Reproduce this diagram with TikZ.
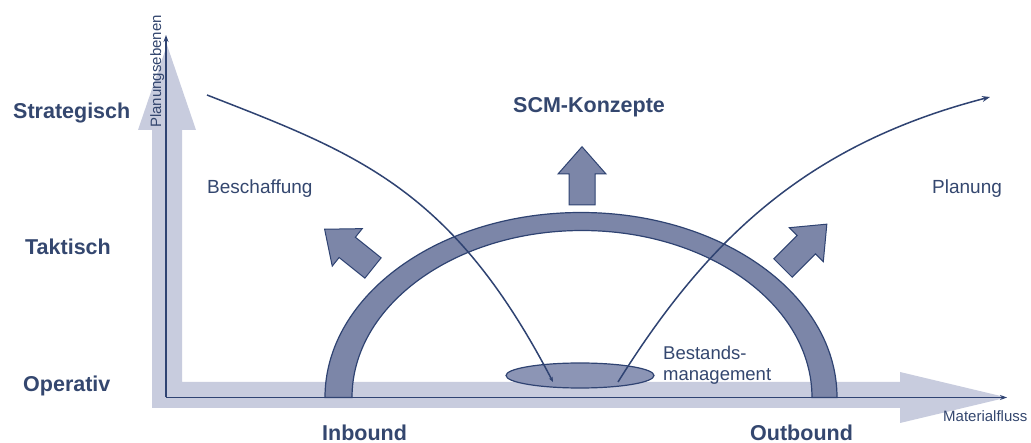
\documentclass[tikz,border=0pt]{standalone}
\usepackage{fontspec}
\setmainfont{Liberation Sans}
\usetikzlibrary{arrows.meta,shapes.geometric}
\definecolor{navy}{HTML}{2F4372}
\definecolor{txt}{HTML}{34476F}
\definecolor{archc}{HTML}{7C86A8}
\definecolor{ellc}{HTML}{8C95B5}
\definecolor{lightc}{HTML}{C8CCDE}
\begin{document}
\begin{tikzpicture}[x=1pt,y=-1pt,
  lvl/.style={font=\fontsize{21.5}{24}\selectfont\bfseries, text=txt, inner sep=0pt, anchor=base west},
  lbl/.style={font=\fontsize{19}{22}\selectfont, text=txt, inner sep=0pt, anchor=base west},
  small/.style={font=\fontsize{15}{18}\selectfont, text=txt, inner sep=0pt, anchor=base west},
  axisline/.style={draw=navy, line width=1.4pt, -{Stealth[length=7pt,width=5pt]}},
  curve/.style={draw=navy, line width=1.5pt},
  blockarr/.pic={\filldraw[fill=archc, draw=navy, line width=1pt]
     (0,-13) -- (33,-13) -- (33,-24) -- (62,0) -- (33,24) -- (33,13) -- (0,13) -- cycle;}
]
\fill[white] (0,0) rectangle (1031,443);
\useasboundingbox (0,0) rectangle (1031,443);

% light background arrows
\fill[lightc] (152,408) -- (900,408) -- (900,423) -- (1007,397.5) -- (900,372) -- (900,382)
  -- (182,382) -- (182,130) -- (196,130) -- (167,45) -- (138,130) -- (152,130) -- cycle;

% axes
\coordinate (O) at (166,397.5);
\coordinate (Ytip) at (166,35);
\coordinate (Xtip) at (1007,397.5);
\draw[axisline] (O) -- (Ytip);
\draw[axisline] (O) -- (Xtip);

% arch
\filldraw[fill=archc, draw=navy, line width=1.2pt]
  (325,397.5) arc[start angle=180, end angle=360, x radius=256, y radius=185]
  -- (812,397.5) arc[start angle=0, end angle=-180, x radius=230, y radius=167] -- cycle;

% Bestandsmanagement ellipse
\node[ellipse, fill=ellc, draw=navy, line width=1.2pt, minimum width=148pt, minimum height=25pt, inner sep=0pt] (bm) at (580,375.5) {};

% curves
\coordinate (L0) at (207,95);
\coordinate (L1) at (553,382);
\coordinate (R0) at (618,382);
\coordinate (R1) at (990,97);
\draw[curve, -{Stealth[length=5pt,width=4pt]}] (L0) .. controls (357,153.5) and (452,188) .. (L1);
\draw[curve, -{Stealth[length=8pt,width=6pt]}] (R0) .. controls (708,238) and (808,144) .. (R1);

% block arrows
\pic[rotate=90, xscale=0.94] at (582,205) {blockarr};
\pic[rotate=141.3] at (373,268) {blockarr};
\pic[rotate=45] at (783,268) {blockarr};

% texts
\node[lvl] (strat) at (13,119) {Strategisch};
\node[lvl] (takt) at (25,255) {Taktisch};
\node[lvl] (oper) at (23,392) {Operativ};
\node[lvl] (scm) at (513,113) {SCM-Konzepte};
\node[lvl] (inb) at (322,440) {Inbound};
\node[lvl] (outb) at (750,440) {Outbound};
\node[lbl] (besch) at (207,194) {Beschaffung};
\node[lbl] (plan) at (932,194) {Planung};
\node[font=\fontsize{18.5}{21.5}\selectfont, text=txt, inner sep=0pt, anchor=base west] (best1) at (663,360) {Bestands-};
\node[font=\fontsize{18.5}{21.5}\selectfont, text=txt, inner sep=0pt, anchor=base west] (best2) at (663,381) {management};
\node[small] (mat) at (943,421) {Materialfluss};
\node[small, rotate=90] (pe) at (161,128) {Planungsebenen};
\end{tikzpicture}
\end{document}
